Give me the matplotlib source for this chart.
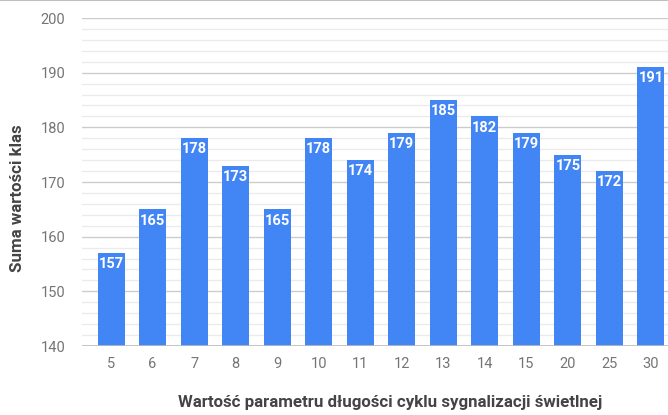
import matplotlib
matplotlib.use("Agg")
import matplotlib.pyplot as plt
from matplotlib.lines import Line2D

categories = ["5", "6", "7", "8", "9", "10", "11", "12", "13", "14", "15", "20", "25", "30"]
values = [157, 165, 178, 173, 165, 178, 174, 179, 185, 182, 179, 175, 172, 191]

plt.rcParams['font.family'] = ['Roboto', 'DejaVu Sans']

fig = plt.figure(figsize=(6.68, 4.15), dpi=100)
ax = fig.add_axes([82/668, 1-346/415, 1-82/668, (346-18)/415])

x = list(range(len(categories)))
bars = ax.bar(x, values, width=0.65, color="#4285F4", bottom=0, zorder=3)
ax.set_ylim(140, 200)
ax.set_xlim(-0.7, 13.41)

ax.set_yticks(range(140, 201, 10))
ax.set_yticks(range(140, 201, 2), minor=True)
ax.grid(axis='y', which='major', color='#cccccc', linewidth=1, zorder=0)
ax.grid(axis='y', which='minor', color='#ebebeb', linewidth=1, zorder=0)
ax.set_xticks(x)
ax.set_xticklabels(categories)
ax.tick_params(axis='both', which='both', length=0, labelsize=10.5, colors='#757575')
ax.tick_params(axis='x', pad=8)
ax.tick_params(axis='y', pad=12)
for s in ax.spines.values():
    s.set_visible(False)
ax.axhline(140, color='#bdbdbd', linewidth=1.2, zorder=4)

for xi, v in zip(x, values):
    ax.annotate(str(v), (xi, v), xytext=(0, -3), textcoords='offset points',
                ha='center', va='top', color='white', fontweight='bold', fontsize=10.5, zorder=5)

fig.text(18/668, 1-198/415, "Suma wartości klas", rotation=90, ha='center', va='center',
         fontsize=12.2, fontweight='bold', color='#444444')
fig.text(390/668, 1-402/415, "Wartość parametru długości cyklu sygnalizacji świetlnej",
         ha='center', va='center', fontsize=12.2, fontweight='bold', color='#444444')

fig.add_artist(Line2D([0, 1], [1-0.5/415, 1-0.5/415], color='#c0c0c0', linewidth=1.5, transform=fig.transFigure))

fig.savefig("out.png", dpi=100)
